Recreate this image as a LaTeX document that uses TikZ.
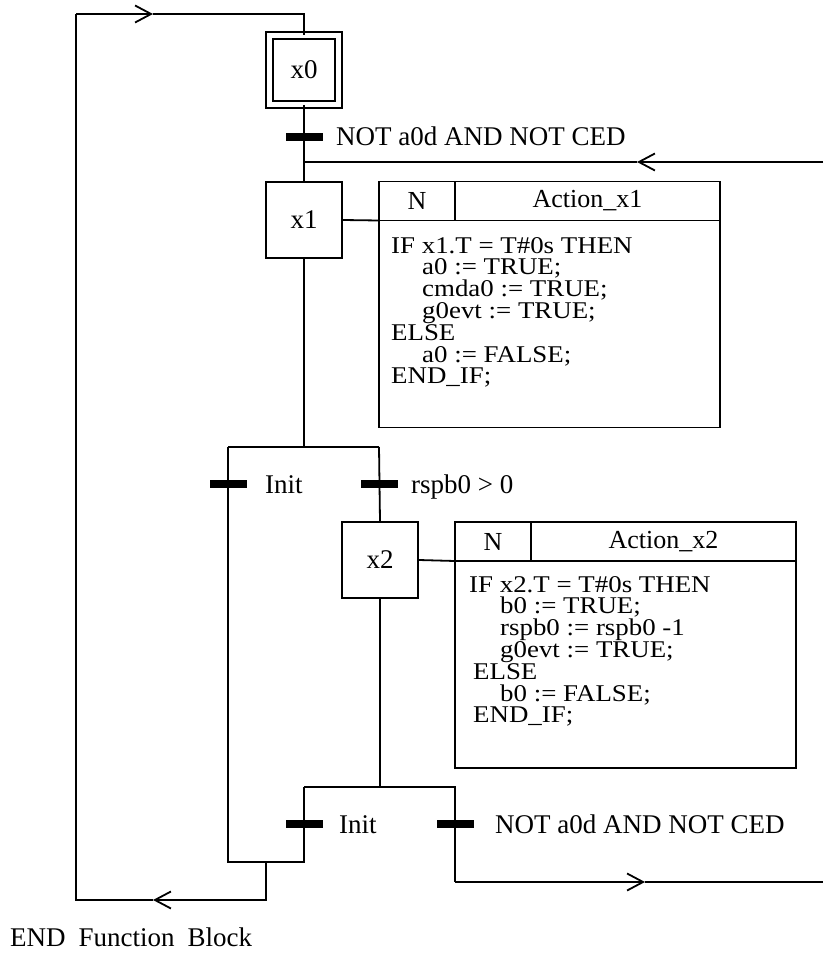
\documentclass[tikz,border=0pt]{standalone}
\usepackage{fontspec}
\setmainfont{Liberation Serif}
\newfontfamily\bodyfont{Liberation Serif}[FakeStretch=1.12]
\usetikzlibrary{positioning,arrows.meta}

\newcommand{\ind}{\hspace*{31pt}}
\newcommand{\tightlines}{\lineskiplimit=-50pt\relax}

\tikzset{
  sfcline/.style={line width=1.8pt},
  chevron/.style={sfcline,-{Straight Barb[length=16pt,width=17pt]}},
  stepbox/.style={draw,line width=1.8pt,minimum width=76pt,minimum height=76pt,
    inner sep=0pt,font=\fontsize{27}{30}\selectfont},
  initstep/.style={stepbox,double,double distance=5.2pt,minimum width=69pt,minimum height=69pt},
  transbar/.style={fill=black,minimum width=37pt,minimum height=8pt,inner sep=0pt},
  translabel/.style={font=\fontsize{27}{30}\selectfont,anchor=base west,inner sep=0pt},
  qualcell/.style={draw,line width=1.8pt,outer sep=0pt,minimum width=76pt,minimum height=39pt,
    inner sep=0pt,font=\fontsize{26}{30}\selectfont},
  namecell/.style={qualcell,minimum width=265pt},
  bodycell/.style={draw,line width=1.8pt,outer sep=0pt,minimum width=341pt,minimum height=207pt,inner sep=0pt},
  bodytext/.style={font=\bodyfont\fontsize{24}{21.8}\selectfont\tightlines,
    align=left,inner sep=0pt,anchor=north west},
}

\begin{document}
\begin{tikzpicture}[x=1pt,y=-1pt]
\useasboundingbox (0,0) rectangle (823,955);

% steps
\node[initstep] (x0) at (304,70) {x0};
\node[stepbox] (x1) at (304,220) {x1};
\node[stepbox] (x2) at (380,560) {x2};

% action blocks
\node[qualcell] (q1) at (417,201) {N};
\node[namecell,right=0pt of q1] (a1) {Action\_x1};
\node[bodycell,below=0pt of q1.south west,anchor=north west] (b1) {};
\node[bodytext] (c1) at ([xshift=12pt,yshift=-16.5pt]b1.north west) {IF x1.T = T\#0s THEN\\
\ind a0 := TRUE;\\
\ind cmda0 := TRUE;\\
\ind g0evt := TRUE;\\
ELSE\\
\ind a0 := FALSE;\\
END\_IF;};

\node[qualcell] (q2) at (493,541.5) {N};
\node[namecell,right=0pt of q2] (a2) {Action\_x2};
\node[bodycell,below=0pt of q2.south west,anchor=north west] (b2) {};
\node[bodytext] (c2) at ([xshift=14pt,yshift=-15pt]b2.north west) {IF x2.T = T\#0s THEN\\
\ind b0 := TRUE;\\
\ind rspb0 := rspb0 -1\\
\ind g0evt := TRUE;\\
\hspace*{4pt}ELSE\\
\ind b0 := FALSE;\\
\hspace*{4pt}END\_IF;};

% junction points
\coordinate (j0) at (304,162);
\coordinate (d1l) at (228,447);
\coordinate (d1r) at (379,447);
\coordinate (d1m) at (304,447);
\coordinate (d2l) at (304,787);
\coordinate (d2r) at (455,787);
\coordinate (d2m) at (380,787);
\coordinate (c1l) at (228,862);
\coordinate (c1r) at (304,862);
\coordinate (c1m) at (266,862);
\coordinate (lb) at (76,900);
\coordinate (lt) at (76,14);
\coordinate (ar0) at (153,14);
\coordinate (ar1) at (637,162);
\coordinate (ar3) at (153,900);
\coordinate (ar4) at (645,882);
\coordinate (rin) at (823,162);
\coordinate (rb) at (455,882);
\coordinate (rout) at (823,882);

% links
\draw[sfcline] (x0.south) -- (x1.north);
\draw[sfcline] (x1.east) -- (b1.north west);
\draw[sfcline] (x1.south) -- (d1m);
\draw[sfcline] (d1l) -- (d1r);
\draw[sfcline] (d1r) -- (x2.north);
\draw[sfcline] (d1l) -- (c1l) -- (c1r) -- (d2l);
\draw[sfcline] (x2.east) -- (b2.north west);
\draw[sfcline] (x2.south) -- (d2m);
\draw[sfcline] (d2l) -- (d2r) -- (rb);
\draw[chevron] (rin) -- (ar1);
\draw[sfcline] (ar1) -- (j0);
\draw[chevron] (rb) -- (ar4);
\draw[sfcline] (ar4) -- (rout);
\draw[chevron] (c1m) |- (ar3);
\draw[sfcline] (ar3) -- (lb) -- (lt);
\draw[chevron] (lt) -- (ar0);
\draw[sfcline] (ar0) -| (x0.north);

% transitions
\node[transbar] (t0) at (304,137) {};
\node[transbar] (t1) at (228,484) {};
\node[transbar] (t2) at (379,484) {};
\node[transbar] (t3) at (304,824) {};
\node[transbar] (t4) at (455,824) {};
\node[translabel] (l0) at (336,145) {NOT a0d AND NOT CED};
\node[translabel] (l1) at (265,493) {Init};
\node[translabel] (l2) at (411,493) {rspb0 > 0};
\node[translabel] (l3) at (339,833) {Init};
\node[translabel] (l4) at (495,833) {NOT a0d AND NOT CED};

\node[translabel] (fin) at (10,946) {END\hspace{13pt}Function\hspace{13pt}Block};
\end{tikzpicture}
\end{document}
